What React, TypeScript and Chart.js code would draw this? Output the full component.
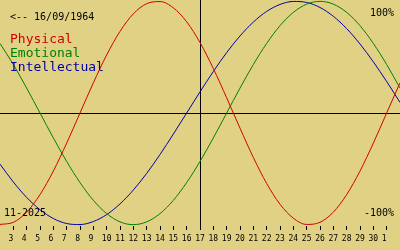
import { useEffect, useRef } from "react";
import { Chart, registerables } from "chart.js";

Chart.register(...registerables);

// ---- data ----
const birthLabel = "<-- 16/09/1964";
const monthLabel = "11-2025";
const topLabel = "100%";
const bottomLabel = "-100%";
const todayIndex = 15; // 17th

// day-of-month categories (2 Nov .. 2 Dec)
const days = [2, 3, 4, 5, 6, 7, 8, 9, 10, 11, 12, 13, 14, 15, 16, 17, 18, 19, 20, 21, 22, 23, 24, 25, 26, 27, 28, 29, 30, 1, 2];

const physical = [
  -0.998, -0.979, -0.888, -0.731, -0.52, -0.27, 0, 0.27, 0.52, 0.731, 0.888,
  0.979, 0.998, 0.942, 0.817, 0.631, 0.398, 0.136, -0.136, -0.398, -0.631,
  -0.817, -0.942, -0.998, -0.979, -0.888, -0.731, -0.52, -0.27, 0, 0.27,
];
const emotional = [
  0.623, 0.434, 0.223, 0, -0.223, -0.434, -0.623, -0.782, -0.901, -0.975, -1,
  -0.975, -0.901, -0.782, -0.623, -0.434, -0.223, 0, 0.223, 0.434, 0.623,
  0.782, 0.901, 0.975, 1, 0.975, 0.901, 0.782, 0.623, 0.434, 0.223,
];
const intellectual = [
  -0.458, -0.618, -0.756, -0.866, -0.945, -0.99, -0.999, -0.972, -0.91, -0.814,
  -0.69, -0.541, -0.372, -0.189, 0, 0.189, 0.372, 0.541, 0.69, 0.814, 0.91,
  0.972, 0.999, 0.99, 0.945, 0.866, 0.756, 0.618, 0.458, 0.282, 0.095,
];

const seriesNames = ["Physical", "Emotional", "Intellectual"];
const seriesValues = [physical, emotional, intellectual];
const seriesColors = ["#d00000", "#008000", "#0000a8"];

const BG = "#e1d184";
const MONO = '"DejaVu Sans Mono", monospace';

const textPlugin = {
  id: "bioText",
  afterDatasetsDraw(chart: any) {
    const ctx = chart.ctx as CanvasRenderingContext2D;
    ctx.save();
    ctx.textBaseline = "alphabetic";
    ctx.fillStyle = "#000";
    ctx.font = `10px ${MONO}`;
    ctx.textAlign = "left";
    ctx.fillText(birthLabel, 10, 20);
    ctx.fillText(monthLabel, 4, 216);
    ctx.textAlign = "right";
    ctx.fillText(topLabel, 394, 16);
    ctx.fillText(bottomLabel, 394, 216);
    ctx.textAlign = "left";
    ctx.font = `13px ${MONO}`;
    seriesNames.forEach((n, i) => {
      ctx.fillStyle = seriesColors[i];
      ctx.fillText(n, 10, 43 + 14 * i);
    });
    ctx.restore();
  },
};

export default function App() {
  const ref = useRef<HTMLCanvasElement>(null);

  useEffect(() => {
    document.body.style.margin = "0";
    document.body.style.background = BG;
    const canvas = ref.current!;
    const last = days.length - 1;
    const chart = new Chart(canvas, {
      type: "line",
      data: {
        labels: days.map(String),
        datasets: seriesValues.map((vals, i) => ({
          label: seriesNames[i],
          data: vals,
          borderColor: seriesColors[i],
          borderWidth: 1,
          pointRadius: 0,
          pointHoverRadius: 0,
          fill: false,
          cubicInterpolationMode: "monotone" as const,
        })),
      },
      options: {
        animation: false,
        responsive: false,
        devicePixelRatio: 1,
        layout: { padding: { left: 0, right: 0, top: 0, bottom: 2 }, autoPadding: false },
        plugins: { legend: { display: false }, tooltip: { enabled: false } },
        scales: {
          x: {
            type: "category",
            offset: false,
            border: { display: false },
            grid: {
              color: (c: any) => (c.index === todayIndex ? "#000" : "rgba(0,0,0,0)"),
              tickColor: (c: any) =>
                c.index === 0 || c.index === last ? "rgba(0,0,0,0)" : "#000",
              lineWidth: 1,
              tickLength: 4,
              drawTicks: true,
            },
            ticks: {
              autoSkip: false,
              maxRotation: 0,
              minRotation: 0,
              padding: 0,
              color: "#000",
              font: { family: MONO, size: 8, lineHeight: 2.25 },
              callback: (_v: any, i: number) =>
                i === 0 || i === last ? "" : days[i] < 10 ? `${days[i]} ` : String(days[i]),
            },
          },
          y: {
            min: -1.012,
            max: 1.012,
            border: { display: false },
            grid: { color: "#000", drawTicks: false, lineWidth: 1 },
            ticks: { display: false },
            afterBuildTicks: (s: any) => {
              s.ticks = [{ value: 0 }];
            },
          },
        },
      },
      plugins: [textPlugin],
    });
    return () => chart.destroy();
  }, []);

  return (
    <div style={{ width: 400, height: 250, background: BG }}>
      <canvas ref={ref} width={400} height={250} style={{ display: "block" }} />
    </div>
  );
}
